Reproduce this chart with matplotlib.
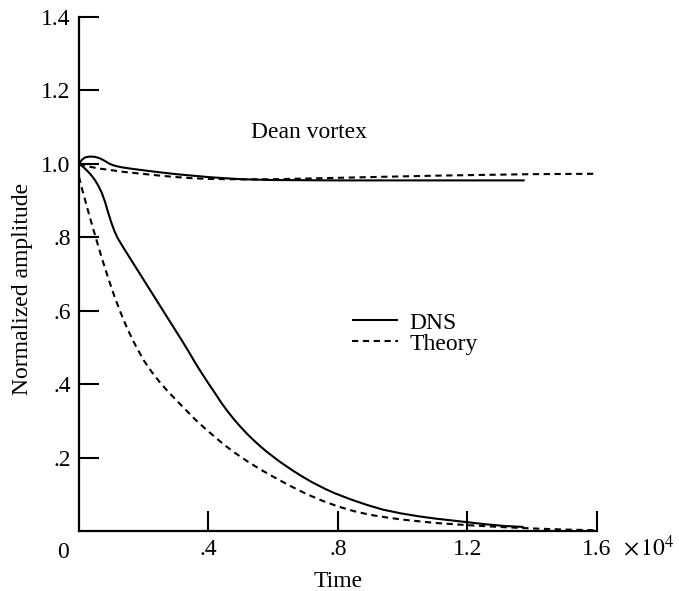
import matplotlib.pyplot as plt
import numpy as np

plt.rcParams['font.family'] = ['Liberation Serif', 'DejaVu Serif']
plt.rcParams['mathtext.fontset'] = 'stix'

# time in units of 1e4
t_dns_up = [0, 0.01, 0.02, 0.035, 0.05, 0.065, 0.08, 0.095, 0.11, 0.13, 0.16, 0.195,
            0.25, 0.30, 0.35, 0.40, 0.45, 0.505, 0.6, 0.8, 1.0, 1.2, 1.377]
a_dns_up = [1.0, 1.012, 1.018, 1.02, 1.019, 1.015, 1.008, 1.0, 0.995, 0.991, 0.987, 0.983,
            0.977, 0.972, 0.968, 0.964, 0.961, 0.958, 0.956, 0.955, 0.955, 0.955, 0.955]

t_th_up = [0, 0.02, 0.04, 0.065, 0.09, 0.14, 0.195, 0.25, 0.30, 0.35, 0.40, 0.5, 0.59,
           0.7, 0.8, 0.95, 1.11, 1.25, 1.4, 1.594]
a_th_up = [1.0, 0.995, 0.991, 0.987, 0.984, 0.978, 0.973, 0.968, 0.964, 0.961, 0.959, 0.958, 0.958,
           0.960, 0.962, 0.965, 0.968, 0.970, 0.972, 0.973]

t_dns_lo = [0, 0.01, 0.02, 0.03, 0.04, 0.05, 0.06, 0.07, 0.08, 0.09, 0.10, 0.11, 0.12,
            0.14, 0.16, 0.18, 0.20, 0.22, 0.24, 0.26, 0.28, 0.30, 0.32, 0.34, 0.36, 0.38,
            0.40, 0.42, 0.44, 0.46, 0.48, 0.50, 0.52, 0.54, 0.56, 0.58, 0.62, 0.66, 0.685,
            0.72, 0.76, 0.79, 0.84, 0.89, 0.94, 0.995, 1.05, 1.10, 1.15, 1.19, 1.25, 1.31, 1.374]
a_dns_lo = [1.0, 0.994, 0.986, 0.977, 0.967, 0.955, 0.94, 0.922, 0.898, 0.868, 0.84, 0.816, 0.797,
            0.768, 0.740, 0.712, 0.684, 0.656, 0.628, 0.600, 0.572, 0.544, 0.516, 0.487, 0.457, 0.429,
            0.402, 0.376, 0.349, 0.325, 0.303, 0.283, 0.264, 0.247, 0.231, 0.216, 0.189, 0.165, 0.151,
            0.133, 0.115, 0.103, 0.086, 0.071, 0.058, 0.048, 0.040, 0.034, 0.029, 0.025, 0.019, 0.014, 0.011]

t_th_lo = [0, 0.01, 0.02, 0.03, 0.04, 0.055, 0.07, 0.09, 0.11, 0.13, 0.15, 0.175, 0.2,
           0.225, 0.25, 0.275, 0.30, 0.33, 0.36, 0.39, 0.42, 0.45, 0.48, 0.52, 0.56, 0.6,
           0.65, 0.7, 0.75, 0.8, 0.85, 0.9, 0.95, 1.0, 1.1, 1.2, 1.3, 1.4, 1.5, 1.6]
a_th_lo = [0.965, 0.93, 0.898, 0.866, 0.835, 0.79, 0.745, 0.69, 0.638, 0.592, 0.55, 0.505, 0.465,
           0.433, 0.405, 0.38, 0.357, 0.33, 0.303, 0.279, 0.256, 0.234, 0.214, 0.19, 0.168, 0.148,
           0.124, 0.102, 0.083, 0.067, 0.054, 0.044, 0.037, 0.031, 0.022, 0.016, 0.011, 0.007, 0.004, 0.002]

xticks = [0.4, 0.8, 1.2, 1.6]
xticklabels = ['.4', '.8', '1.2', '1.6']
yticks = [0.2, 0.4, 0.6, 0.8, 1.0, 1.2, 1.4]
yticklabels = ['.2', '.4', '.6', '.8', '1.0', '1.2', '1.4']

fs = 17
fig = plt.figure(figsize=(6.79, 5.91), dpi=100)
ax = fig.add_axes([0.1163, 0.1015, 0.7627, 0.8697])

lw = 1.5
dash = (3, 2.2)
ax.plot(t_dns_up, a_dns_up, 'k-', lw=lw, solid_capstyle='butt')
ax.plot(t_th_up, a_th_up, 'k--', lw=lw, dashes=dash)
ax.plot(t_dns_lo, a_dns_lo, 'k-', lw=lw, label='DNS', solid_capstyle='butt')
ax.plot(t_th_lo, a_th_lo, 'k--', lw=lw, dashes=dash, label='Theory')

ax.set_xlim(0, 1.6)
ax.set_ylim(0, 1.4)
ax.spines['top'].set_visible(False)
ax.spines['right'].set_visible(False)
for s in ['left', 'bottom']:
    ax.spines[s].set_linewidth(1.6)

ax.set_xticks(xticks)
ax.set_xticklabels(xticklabels)
ax.set_yticks(yticks)
ax.set_yticklabels(yticklabels)
ax.tick_params(direction='in', length=14.5, width=1.5, labelsize=fs, pad=6)

ax.text(-0.05, -0.03, '0', fontsize=fs, ha='center', va='top')
ax.annotate(r'$\times\,10^4$', xy=(1.6, 0), xytext=(19, -18), textcoords='offset points',
            fontsize=fs, ha='left', va='baseline')

ax.set_xlabel('Time', fontsize=fs)
ax.xaxis.set_label_coords(0.5, -0.077)
ax.set_ylabel('Normalized amplitude', fontsize=fs)
ax.yaxis.set_label_coords(-0.089, 0.47)

ax.text(0.53, 1.085, 'Dean vortex', fontsize=fs, ha='left', va='center')

ax.legend(loc='upper left', bbox_to_anchor=(0.527, 0.426), frameon=False, fontsize=fs,
          handlelength=1.95, handletextpad=0.5, labelspacing=-0.015, borderpad=0, borderaxespad=0)

fig.savefig('out.png', dpi=100)
